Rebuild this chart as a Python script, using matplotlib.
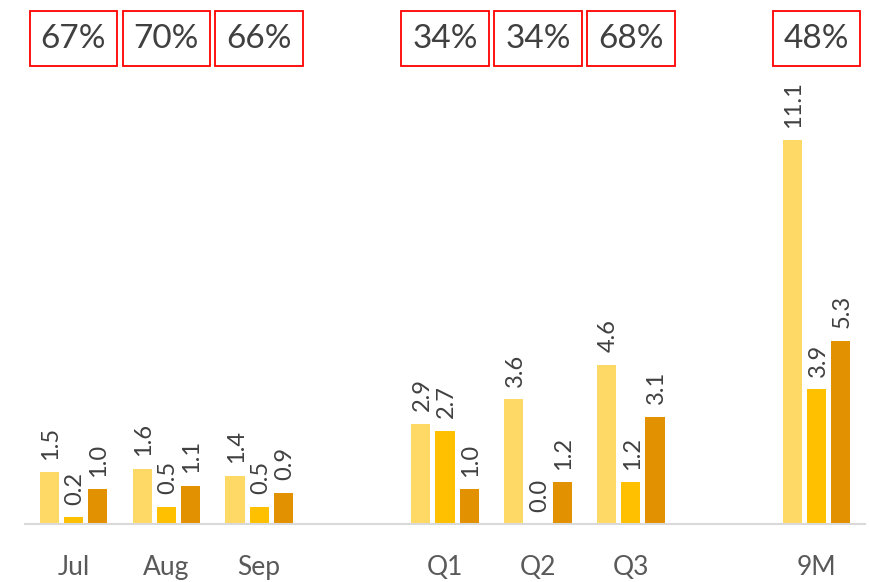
import numpy as np
import matplotlib
matplotlib.use('Agg')
import matplotlib.pyplot as plt
from matplotlib.patches import Rectangle

# chart data
categories = ['Jul', 'Aug', 'Sep', 'Q1', 'Q2', 'Q3', '9M']
slots = [0, 1, 2, 4, 5, 6, 8]
series_a = [1.5, 1.6, 1.4, 2.9, 3.6, 4.6, 11.1]
series_b = [0.2, 0.5, 0.5, 2.7, 0.0, 1.2, 3.9]
series_c = [1.0, 1.1, 0.9, 1.0, 1.2, 3.1, 5.3]
percents = ['67%', '70%', '66%', '34%', '34%', '68%', '48%']

colors = ['#FFD966', '#FFC000', '#E29100']
plt.rcParams['font.family'] = ['Lato', 'DejaVu Sans']

fig = plt.figure(figsize=(8.69, 5.82), dpi=100)
W, H = 869, 582
ax = fig.add_axes([25 / W, 58 / H, 840 / W, 514 / H])

x = np.array(slots, dtype=float)
width = 0.205
offset = 0.26
for i, vals in enumerate([series_a, series_b, series_c]):
    xs = x + (i - 1) * offset
    bars = ax.bar(xs, vals, width, color=colors[i], zorder=2)
    for xi, v in zip(xs, vals):
        ax.annotate(f'{v:.1f}', (xi, v), xytext=(1, 9), textcoords='offset points',
                    rotation=90, ha='center', va='bottom', fontsize=17,
                    color='#404040')

# percentage boxes at the top
box_w = 0.94
box_y0, box_y1 = 458 / 514, 513 / 514
trans = ax.get_xaxis_transform()
for xi, p in zip(x, percents):
    ax.add_patch(Rectangle((xi - box_w / 2, box_y0), box_w, box_y1 - box_y0,
                           transform=trans, fc='white', ec='#FF0000', lw=1.3,
                           clip_on=False))
    ax.text(xi, (box_y0 + box_y1) / 2, p, transform=trans, ha='center',
            va='center', fontsize=24, color='#404040')

ax.set_xlim(-0.52, 8.52)
ax.set_ylim(0, 14.86)
ax.set_xticks(x)
ax.set_xticklabels(categories, fontsize=19, color='#595959')
ax.tick_params(axis='x', length=0, pad=22)
ax.set_yticks([])
for s in ['top', 'right', 'left']:
    ax.spines[s].set_visible(False)
ax.spines['bottom'].set_color('#D9D9D9')
ax.spines['bottom'].set_linewidth(1.5)

fig.savefig('out.png', dpi=100)
